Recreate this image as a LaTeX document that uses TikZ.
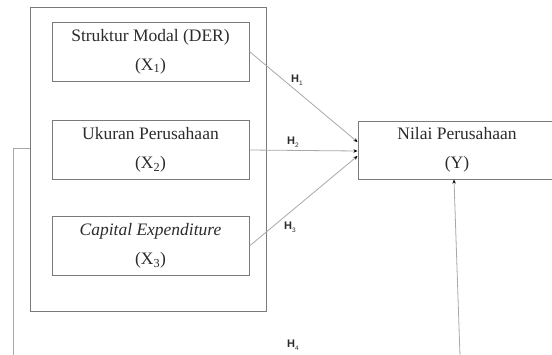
\documentclass[tikz,border=0pt]{standalone}
\usepackage{fontspec}
\setmainfont{Liberation Serif}
\newfontfamily\hfont{Liberation Sans}
\usetikzlibrary{arrows.meta}
\definecolor{boxc}{HTML}{7A7A7A}
\definecolor{linec}{HTML}{A8A8A8}
\definecolor{txtc}{HTML}{2B2B2B}
\tikzset{
  varbox/.style={draw=boxc, line width=1pt, minimum width=197pt, minimum height=59pt,
    inner sep=0pt, align=center, text=txtc, font=\fontsize{17.5}{29}\selectfont},
  outerbox/.style={draw=boxc, line width=1pt},
  conn/.style={draw=linec, line width=0.8pt},
  arr/.style={conn, -{Stealth[length=4pt,width=3.5pt,black]}},
  hlab/.style={text=txtc, font=\hfont\fontsize{11}{11}\selectfont, inner sep=1pt}
}
\newcommand{\hsub}[1]{{\bfseries H}\raisebox{-2.5pt}{\fontsize{6.5}{6.5}\selectfont #1}}
\begin{document}
\begin{tikzpicture}[x=1pt,y=-1pt]
\useasboundingbox (0,0) rectangle (552,354);
\clip (0,0) rectangle (552,354);
\node[outerbox, minimum width=236pt, minimum height=304pt, inner sep=0pt] (outer) at (148,159) {};
\node[varbox] (x1) at (150.5,51.5) {Struktur Modal (DER)\\(X\textsubscript{1})};
\node[varbox] (x2) at (150.5,150) {Ukuran Perusahaan\\(X\textsubscript{2})};
\node[varbox] (x3) at (150.5,246) {\textit{Capital Expenditure}\\(X\textsubscript{3})};
\node[varbox, minimum width=198pt, minimum height=58pt] (y) at (457,150) {Nilai Perusahaan\\(Y)};
\draw[arr] (x1.east) -- ([yshift=8pt]y.west);
\draw[arr] (x2.east) -- ([yshift=-1pt]y.west);
\draw[arr] (x3.east) -- ([yshift=-6pt]y.west);
\coordinate (h4s) at (460,356);
\draw[arr] (h4s) -- ([xshift=-3pt]y.south);
\coordinate (l1) at (13,356);
\coordinate (l2) at (13,148);
\draw[conn] (l1) -- (l2) -- (l2 -| outer.west);
\node[hlab] (h1) at (297,80) {\hsub{1}};
\node[hlab] (h2) at (293,142) {\hsub{2}};
\node[hlab] (h3) at (290,227) {\hsub{3}};
\node[hlab] (h4) at (293,345) {\hsub{4}};
\end{tikzpicture}
\end{document}
